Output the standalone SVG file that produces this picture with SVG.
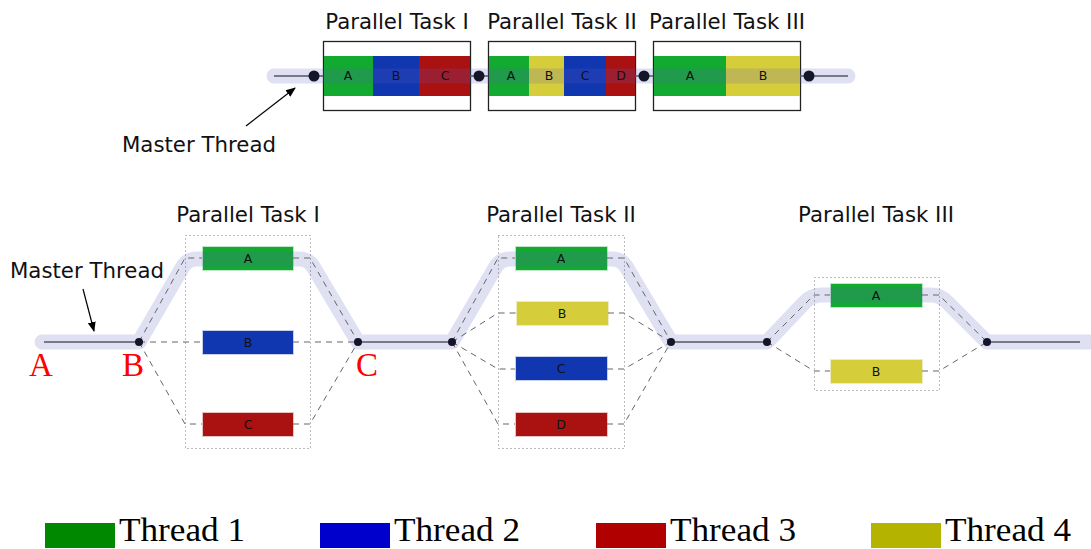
<svg xmlns="http://www.w3.org/2000/svg" width="1091" height="549" viewBox="0 0 1091 549">
<defs>
<marker id="ah" viewBox="0 0 10 10" refX="9" refY="5" markerWidth="10" markerHeight="10" markerUnits="userSpaceOnUse" orient="auto">
<path d="M0,1 L10,5 L0,9 Z" fill="#000"/>
</marker>
<style>
.sans{font-family:"DejaVu Sans",sans-serif;fill:#111}
.title{font-size:21.3px}
.lbl{font-size:12.5px;text-anchor:middle}
.serif{font-family:"Liberation Serif",serif}
.red{fill:#ff0000;font-size:33px}
.leg{font-size:33px;fill:#000}
.g{fill:#12aa30;stroke:#bfe6c6;stroke-width:1}
.b{fill:#1037b0;stroke:#c7d0ea;stroke-width:1}
.r{fill:#aa1111;stroke:#e5c4c4;stroke-width:1}
.y{fill:#d6cd3b;stroke:#eeeac2;stroke-width:1}
.tg{fill:#12aa30}.tb{fill:#1037b0}.tr{fill:#aa1111}.ty{fill:#d6cd3b}
.box{fill:#fff;stroke:#222;stroke-width:1.3}
.dot{fill:none;stroke:#777;stroke-width:1;stroke-dasharray:1,3}
.lav{fill:none;stroke:#5a5ac0;stroke-opacity:0.19;stroke-width:15;stroke-linecap:round;stroke-linejoin:round}
.thin{fill:none;stroke:#555566;stroke-width:1.3}
.dash{fill:none;stroke:#666;stroke-width:1;stroke-dasharray:6,5}
.node{fill:#15152a}
</style>
</defs>

<!-- ===== Top overview ===== -->
<g id="top-titles" class="sans title">
<text x="397" y="29" text-anchor="middle">Parallel Task I</text>
<text x="562" y="29" text-anchor="middle">Parallel Task II</text>
<text x="727" y="29" text-anchor="middle">Parallel Task III</text>
</g>
<g id="top-task1">
<rect class="box" x="323.5" y="41.5" width="147" height="69"/>
<rect class="tg" x="324" y="56" width="49" height="40"/>
<rect class="tb" x="373" y="56" width="46" height="40"/>
<rect class="tr" x="419" y="56" width="51" height="40"/>
</g>
<g id="top-task2">
<rect class="box" x="488.5" y="41.5" width="147" height="69"/>
<rect class="tg" x="489" y="56" width="40" height="40"/>
<rect class="ty" x="529" y="56" width="35" height="40"/>
<rect class="tb" x="564" y="56" width="42" height="40"/>
<rect class="tr" x="606" y="56" width="29" height="40"/>
</g>
<g id="top-task3">
<rect class="box" x="653.5" y="41.5" width="147" height="69"/>
<rect class="tg" x="654" y="56" width="72" height="40"/>
<rect class="ty" x="726" y="56" width="74" height="40"/>
</g>
<g id="top-connectors">
<path class="lav" d="M274,76 L848,76"/>
<path class="thin" d="M274,76 L323,76 M470,76 L488,76 M635,76 L653,76 M800,76 L848,76"/>
<circle class="node" cx="314" cy="76" r="5.5"/>
<circle class="node" cx="479" cy="76" r="5.5"/>
<circle class="node" cx="644" cy="76" r="5.5"/>
<circle class="node" cx="809" cy="76" r="5.5"/>
<path d="M246,126 L295,88" stroke="#000" stroke-width="1.2" fill="none" marker-end="url(#ah)"/>
</g>
<g id="top-labels" class="sans lbl">
<text x="348" y="80">A</text><text x="396" y="80">B</text><text x="445" y="80">C</text>
<text x="511" y="80">A</text><text x="549" y="80">B</text><text x="585" y="80">C</text><text x="621" y="80">D</text>
<text x="690" y="80">A</text><text x="763" y="80">B</text>
</g>
<text id="top-master" class="sans title" x="122" y="152">Master Thread</text>

<!-- ===== Bottom detailed ===== -->
<g id="bottom-titles" class="sans title">
<text x="248" y="222" text-anchor="middle">Parallel Task I</text>
<text x="561" y="222" text-anchor="middle">Parallel Task II</text>
<text x="876" y="222" text-anchor="middle">Parallel Task III</text>
</g>

<g id="frames">
<rect class="dot" x="185.5" y="235.5" width="125" height="213"/>
<rect class="dot" x="498.5" y="235.5" width="126" height="213"/>
<rect class="dot" x="814.5" y="277.5" width="125" height="113"/>
</g>

<g id="task1">
<g id="t1-A"><rect class="g" x="202.5" y="246.5" width="91" height="24"/></g>
<g id="t1-B"><rect class="b" x="202.5" y="330.5" width="91" height="24"/></g>
<g id="t1-C"><rect class="r" x="202.5" y="412.5" width="91" height="24"/></g>
</g>
<g id="task2">
<g id="t2-A"><rect class="g" x="515.5" y="246.5" width="92" height="24"/></g>
<g id="t2-B"><rect class="y" x="516.5" y="301.5" width="92" height="24"/></g>
<g id="t2-C"><rect class="b" x="515.5" y="356.5" width="92" height="24"/></g>
<g id="t2-D"><rect class="r" x="515.5" y="412.5" width="92" height="24"/></g>
</g>
<g id="task3">
<g id="t3-A"><rect class="g" x="830.5" y="283.5" width="92" height="24"/></g>
<g id="t3-B"><rect class="y" x="830.5" y="359.5" width="92" height="24"/></g>
</g>

<g id="connectors">
<path class="lav" d="M42,342 L139,342 L182,268 Q187,259 197,259 L299,259 Q309,259 314,268 L358,342 L452,342 L495,268 Q500,259 510,259 L612,259 Q622,259 627,268 L671,342 L767,342 L805,302 Q812,295 822,295 L931,295 Q940,295 947,302 L987,342 L1100,342"/>
<path class="thin" d="M44,342 L139,342 M358,342 L452,342 M671,342 L767,342 M987,342 L1080,342"/>
<g class="dash">
<path d="M139,342 L185,258 L202,258 M293,258 L310,258 L358,342"/>
<path d="M139,342 L202,342 M293,342 L358,342"/>
<path d="M139,342 L185,424 L202,424 M293,424 L310,424 L358,342"/>
<path d="M452,342 L498,258 L515,258 M607,258 L624,258 L671,342"/>
<path d="M452,342 L498,313 L516,313 M608,313 L624,313 L671,342"/>
<path d="M452,342 L498,369 L515,369 M607,369 L624,369 L671,342"/>
<path d="M452,342 L498,424 L515,424 M607,424 L624,424 L671,342"/>
<path d="M767,342 L814,295 L830,295 M922,295 L939,295 L987,342"/>
<path d="M767,342 L814,371 L830,371 M922,371 L939,371 L987,342"/>
</g>
<circle class="node" cx="139" cy="342" r="4"/>
<circle class="node" cx="358" cy="342" r="4"/>
<circle class="node" cx="452" cy="342" r="4"/>
<circle class="node" cx="671" cy="342" r="4"/>
<circle class="node" cx="767" cy="342" r="4"/>
<circle class="node" cx="987" cy="342" r="4"/>
<path d="M83,289 L94,331" stroke="#000" stroke-width="1.2" fill="none" marker-end="url(#ah)"/>
</g>

<g id="bar-labels" class="sans lbl">
<text x="248" y="263">A</text><text x="248" y="347">B</text><text x="248" y="429">C</text>
<text x="561" y="263">A</text><text x="562" y="318">B</text><text x="561" y="373">C</text><text x="561" y="429">D</text>
<text x="876" y="300">A</text><text x="876" y="376">B</text>
</g>

<text id="bottom-master" class="sans title" x="10" y="278">Master Thread</text>

<g id="points" class="serif red">
<text x="29" y="376">A</text>
<text x="122" y="376">B</text>
<text x="356" y="376">C</text>
</g>

<g id="legend">
<rect x="45" y="523" width="70" height="25" fill="#008800"/>
<text class="serif leg" x="119" y="541" textLength="126" lengthAdjust="spacingAndGlyphs">Thread 1</text>
<rect x="320" y="523" width="70" height="25" fill="#0000cc"/>
<text class="serif leg" x="394" y="541" textLength="126" lengthAdjust="spacingAndGlyphs">Thread 2</text>
<rect x="596" y="523" width="70" height="25" fill="#b00000"/>
<text class="serif leg" x="670" y="541" textLength="126" lengthAdjust="spacingAndGlyphs">Thread 3</text>
<rect x="871" y="523" width="70" height="25" fill="#b4b400"/>
<text class="serif leg" x="945" y="541" textLength="126" lengthAdjust="spacingAndGlyphs">Thread 4</text>
</g>
</svg>
